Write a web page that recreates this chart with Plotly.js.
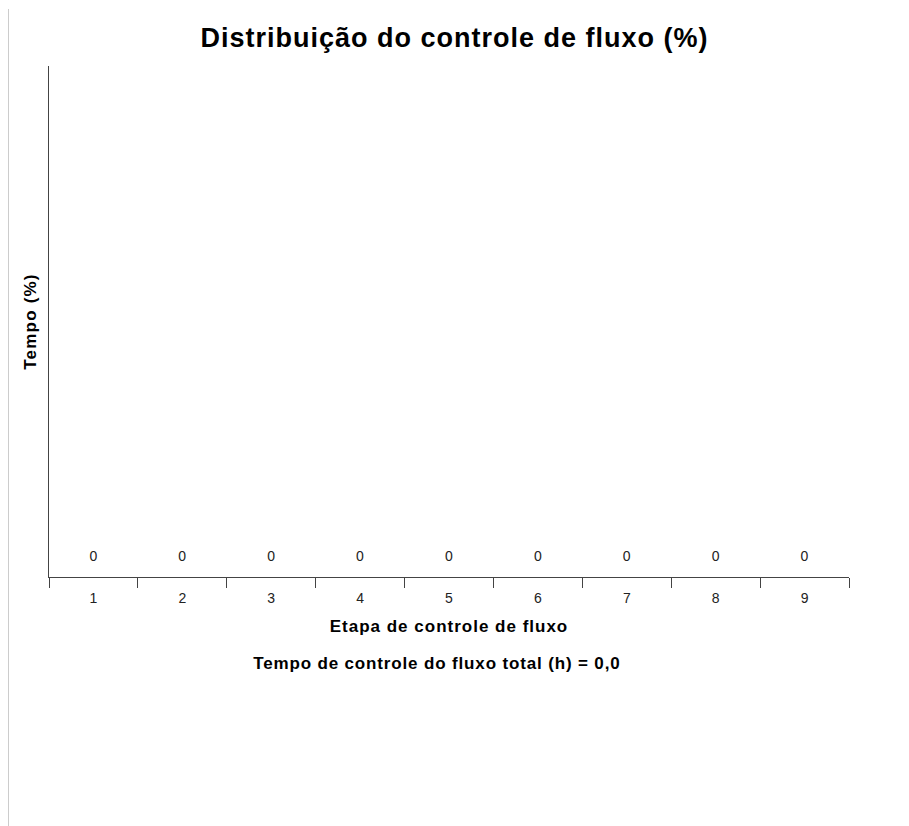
<!DOCTYPE html>
<html>
<head>
<meta charset="utf-8">
<script src="https://cdn.plot.ly/plotly-3.0.1.min.js"></script>
<style>
  html, body { margin: 0; padding: 0; background: #fff; }
  #frame { position: absolute; left: 8px; top: 9px; bottom: 0; border-left: 1px solid #cccccc; }
  #chart { position: absolute; left: 0; top: 0; width: 909px; height: 826px; }
  /* the reference text is set a little looser than Liberation Sans */
  #chart text.gtitle, #chart text.xtitle { letter-spacing: 1px; }
  #chart text.ytitle { letter-spacing: 1.2px; }
  #chart text.annotation-text { letter-spacing: 0.85px; }
</style>
</head>
<body>
<div id="frame"></div>
<div id="chart"></div>
<script>
document.addEventListener("DOMContentLoaded", function () {

  const etapas = ['1', '2', '3', '4', '5', '6', '7', '8', '9'];
  const tempo = [0, 0, 0, 0, 0, 0, 0, 0, 0];
  const rotulos = ['0', '0', '0', '0', '0', '0', '0', '0', '0'];
  const tempoTotal = '0,0';

  const data = [
    {
      x: etapas,
      y: tempo,
      type: "bar",
      text: rotulos,
      textposition: "outside",
      cliponaxis: false,
      marker: { color: "#4472c4" },
      textfont: { size: 14, color: "#222222", family: "Liberation Sans, Arial, sans-serif" },
      hoverinfo: "skip"
    }
  ];

  const layout = {
    width: 909,
    height: 826,
    margin: { l: 49, r: 60, t: 66, b: 249 },
    paper_bgcolor: "rgba(0,0,0,0)",
    plot_bgcolor: "rgba(0,0,0,0)",
    font: { family: "Liberation Sans, Arial, sans-serif", color: "#000" },
    title: {
      text: "<b>Distribuição do controle de fluxo (%)</b>",
      font: { size: 27, color: "#000" },
      x: 0.5, xanchor: "center",
      y: 1 - 38 / 826, yanchor: "middle", yref: "container"
    },
    xaxis: {
      type: "category",
      showline: true, linecolor: "#444", linewidth: 1,
      ticks: "outside", tickson: "boundaries", ticklen: 10, tickcolor: "#444",
      ticklabelstandoff: 8,
      tickfont: { size: 14, color: "#222" },
      showgrid: false, zeroline: false,
      automargin: true,
      title: { text: "<b>Etapa de controle de fluxo</b>", font: { size: 17, color: "#000" }, standoff: 15 }
    },
    yaxis: {
      range: [-0.02, 1],
      showline: true, linecolor: "#444", linewidth: 1,
      showticklabels: false, ticks: "", showgrid: false, zeroline: false,
      automargin: true,
      title: { text: "<b>Tempo (%)</b>", font: { size: 17, color: "#000" }, standoff: 7 }
    },
    annotations: [
      {
        text: "<b>Tempo de controle do fluxo total (h) = " + tempoTotal + "</b>",
        xref: "paper", yref: "paper",
        x: (437 - 49) / 800, y: -(663 - 577) / 511,
        xanchor: "center", yanchor: "middle",
        showarrow: false,
        font: { size: 17, color: "#000" }
      }
    ],
    showlegend: false
  };

  Plotly.newPlot("chart", data, layout, { displayModeBar: false, staticPlot: true });

});
</script>
</body>
</html>
